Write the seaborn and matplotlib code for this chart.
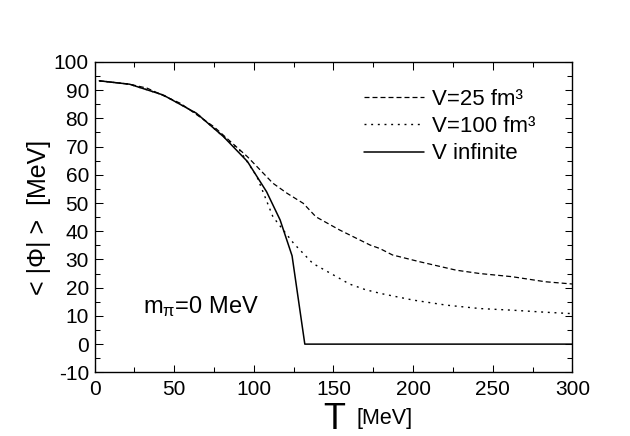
import numpy as np
import pandas as pd
import matplotlib
matplotlib.use("Agg")
import matplotlib.pyplot as plt
import seaborn as sns
from matplotlib.ticker import MultipleLocator

T_inf = [3, 22, 43, 64, 81, 96, 108, 116.5, 124, 132, 300]
phi_inf = [93.3, 92.1, 88.3, 81.8, 73.5, 64.7, 54.0, 44.0, 31.3, 0.0, 0.0]

T_25 = [3, 22, 33, 54, 75, 96, 112, 121, 131, 139, 154, 173, 179, 187, 204, 227, 242, 262, 283, 300]
phi_25 = [93.3, 92.1, 90.7, 85.3, 77.0, 66.4, 57.0, 53.4, 49.9, 45.1, 40.4, 35.1, 33.9, 31.6, 29.2, 26.2, 25.0, 23.9, 22.1, 21.3]

T_100 = [3, 22, 43, 64, 81, 91, 102, 112, 125, 137, 150, 160, 170, 180, 200, 221, 242, 263, 283, 300]
phi_100 = [93.3, 92.1, 88.3, 81.8, 73.5, 68.8, 59.3, 45.1, 35.7, 28.6, 24.5, 21.3, 19.3, 17.9, 15.6, 13.8, 12.6, 12.0, 11.3, 10.8]

labels = ["V=25 fm³", "V=100 fm³", "V infinite"]

sns.set_style("ticks")
plt.rcParams['font.family'] = ['Liberation Sans', 'DejaVu Sans']
plt.rcParams['mathtext.default'] = 'regular'
plt.rcParams['axes.unicode_minus'] = False
plt.rcParams['text.color'] = 'black'
plt.rcParams['axes.labelcolor'] = 'black'

fig = plt.figure(figsize=(6.3, 4.36), dpi=100)
ax = fig.add_axes([0.150, 0.146, 0.7587, 0.712])

sns.lineplot(x=T_25, y=phi_25, ax=ax, color="black", lw=0.9, label=labels[0],
             estimator=None, sort=False)
ax.lines[-1].set_dashes((4, 2.4))
sns.lineplot(x=T_100, y=phi_100, ax=ax, color="black", lw=1.0, label=labels[1],
             estimator=None, sort=False)
ax.lines[-1].set_dashes((1.4, 3.4))
sns.lineplot(x=T_inf, y=phi_inf, ax=ax, color="black", lw=1.1, label=labels[2],
             estimator=None, sort=False)

ax.set_xlim(0, 300)
ax.set_ylim(-10, 100)
ax.xaxis.set_major_locator(MultipleLocator(50))
ax.xaxis.set_minor_locator(MultipleLocator(25))
ax.yaxis.set_major_locator(MultipleLocator(10))
ax.yaxis.set_minor_locator(MultipleLocator(5))
ax.tick_params(which="both", direction="in", top=True, right=True, width=0.75,
               labelsize=15, colors="black")
ax.tick_params(which="major", length=5.4)
ax.tick_params(which="minor", length=3.4)
ax.tick_params(axis="x", pad=5.5)
ax.tick_params(axis="y", pad=4)
for s in ax.spines.values():
    s.set_linewidth(1.0)
    s.set_color("black")

ax.set_xlabel("")
ax.set_ylabel("< |Φ| >  [MeV]", fontsize=18, labelpad=2)
fig.text(334 / 630, 1 - 429 / 436, "T", fontsize=26, ha="center", va="baseline")
fig.text(357 / 630, 1 - 424 / 436, "[MeV]", fontsize=15.5, ha="left", va="baseline")

fig.text(143 / 630, 1 - 313 / 436, "m$_{π}$=0 MeV", fontsize=17, ha="left", va="baseline")

leg = ax.legend(loc="upper left", bbox_to_anchor=(364 / 630, 1 - 89 / 436),
                bbox_transform=fig.transFigure, frameon=False, borderpad=0,
                borderaxespad=0, fontsize=16, handlelength=2.7, handletextpad=0.35,
                labelspacing=0.28)

fig.savefig("out.png", dpi=100)
